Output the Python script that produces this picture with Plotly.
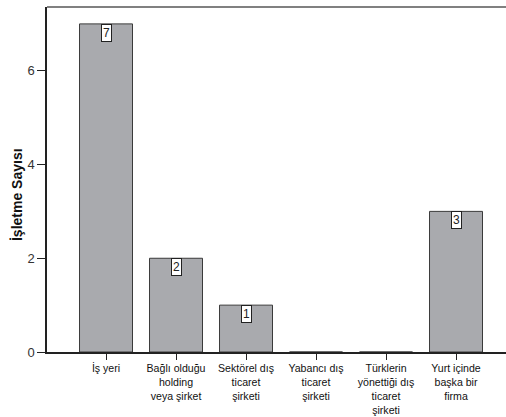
import plotly.graph_objects as go

categories = ["İş yeri", "Bağlı olduğu holding veya şirket", "Sektörel dış ticaret şirketi",
              "Yabancı dış ticaret şirketi", "Türklerin yönettiği dış ticaret şirketi",
              "Yurt içinde başka bir firma"]
tick_labels = ["İş yeri", "Bağlı olduğu<br>holding<br>veya şirket", "Sektörel dış<br>ticaret<br>şirketi",
               "Yabancı dış<br>ticaret<br>şirketi", "Türklerin<br>yönettiği dış<br>ticaret<br>şirketi",
               "Yurt içinde<br>başka bir<br>firma"]
values = [7, 2, 1, 0, 0, 3]
y_title = "İşletme Sayısı"
y_ticks = [0, 2, 4, 6]

FONT = "Arial, 'Liberation Sans', sans-serif"

fig = go.Figure()
fig.add_trace(go.Bar(
    x=list(range(len(categories))), y=values, width=0.757,
    marker=dict(color="#a9aaae", line=dict(color="#3a3a3a", width=1)),
    hoverinfo="skip",
))

annotations = []
for i, v in enumerate(values):
    if v > 0:
        annotations.append(dict(x=i, y=v, xref="x", yref="y", text=str(v), showarrow=False,
                                yanchor="top", xanchor="center",
                                font=dict(family=FONT, size=12, color="#222"),
                                bgcolor="white", bordercolor="#222", borderwidth=1, borderpad=1))
annotations.append(dict(x=0, xref="paper", xshift=-30, y=0.455, yref="paper", text=f"<b>{y_title}</b>",
                        showarrow=False, textangle=-90, xanchor="center", yanchor="middle",
                        font=dict(family=FONT, size=14, color="#111")))

fig.update_layout(
    width=506, height=417,
    margin=dict(l=47, r=0, t=7, b=65, pad=0, autoexpand=False),
    paper_bgcolor="white", plot_bgcolor="white",
    showlegend=False,
    font=dict(family=FONT, size=11, color="#111"),
    annotations=annotations,
    shapes=[dict(type="line", xref="paper", yref="paper", x0=0, x1=1, y0=1, y1=1,
                 line=dict(color="#808080", width=2))],
    xaxis=dict(range=[-0.843, 5.714], tickmode="array", tickvals=list(range(len(categories))),
               ticktext=tick_labels, ticks="outside", ticklen=6, tickcolor="#222", tickwidth=1,
               showline=True, linecolor="#222", linewidth=1.5, showgrid=False, zeroline=False,
               automargin=False, tickfont=dict(family=FONT, size=10.6, color="#111")),
    yaxis=dict(range=[0, 7.36], tickmode="array", tickvals=y_ticks, ticks="outside", ticklen=8,
               tickcolor="#222", tickwidth=1, showline=True, linecolor="#222", linewidth=1.5,
               showgrid=False, zeroline=False, automargin=False,
               tickfont=dict(family=FONT, size=13, color="#333")),
)

fig.write_html("out.html", config={"displayModeBar": False},
               post_script="document.body.style.margin='0';document.body.style.overflow='hidden';")
